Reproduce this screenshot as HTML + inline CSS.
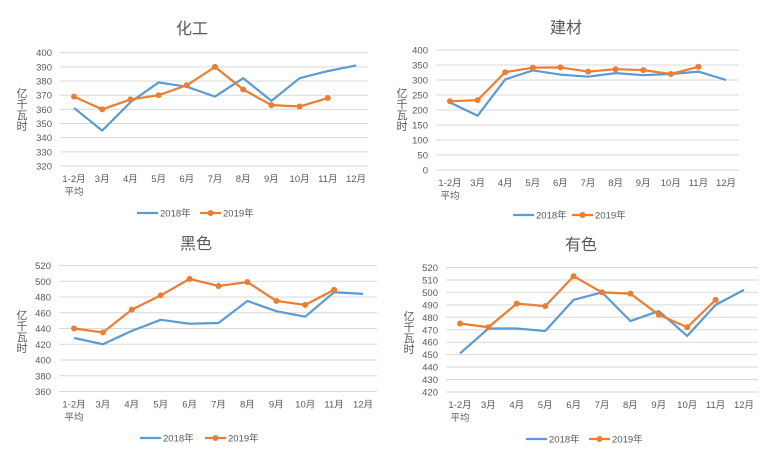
<!DOCTYPE html>
<html><head><meta charset="utf-8"><style>
html,body{margin:0;padding:0;background:#fff;}
svg text{font-family:"Liberation Sans","Noto Sans CJK SC",sans-serif;fill:#595959;}
</style></head><body>
<svg id="s" width="772" height="457" viewBox="0 0 772 457" xmlns="http://www.w3.org/2000/svg"></svg>
<script>
const charts=[
{t:"化工",tx:192,ty:34,top:52.7,bot:166,ymax:400,ymin:320,step:10,left:60,right:368,x0:74,x1:356,ylx:22,yly:111,leg:213,lb:137,lo:200,
a:[361,345,365,379,376,369,382,366,382,387,391],b:[369,360,367,370,377,390,374,363,362,368]},
{t:"建材",tx:566,ty:33,top:50,bot:170,ymax:400,ymin:0,step:50,left:436,right:739,x0:450,x1:726,ylx:402,yly:111,leg:215,lb:513,lo:572,
a:[225,181,302,332,318,311,323,316,320,328,300],b:[229,233,326,341,342,328,336,333,320,344]},
{t:"黑色",tx:196,ty:249,top:265.5,bot:391.5,ymax:520,ymin:360,step:20,left:59,right:377,x0:74,x1:363,ylx:22,yly:333,leg:438,lb:140,lo:205,
a:[428,420,437,451,446,447,475,462,455,486,484],b:[440,435,464,482,503,494,499,475,470,489]},
{t:"有色",tx:581,ty:250,top:267.5,bot:392,ymax:520,ymin:420,step:10,left:446,right:758,x0:460,x1:744,ylx:409,yly:334,leg:439,lb:526,lo:589,
a:[451,471,471,469,494,500,477,485,465,490,502],b:[475,472,491,489,513,500,499,482,472,494]}];
const cats=["1-2月","3月","4月","5月","6月","7月","8月","9月","10月","11月","12月"];
let h="";
for(const c of charts){
 const Y=v=>c.bot-(v-c.ymin)/(c.ymax-c.ymin)*(c.bot-c.top);
 const X=i=>c.x0+i*(c.x1-c.x0)/10;
 h+=`<text x="${c.tx}" y="${c.ty}" font-size="16" text-anchor="middle">${c.t}</text>`;
 for(let v=c.ymin;v<=c.ymax;v+=c.step){const y=Y(v);
  h+=`<line x1="${c.left}" x2="${c.right}" y1="${y}" y2="${y}" stroke="#d9d9d9" stroke-width="1"/>`;
  h+=`<text x="${c.left-8}" y="${y+3.5}" font-size="9.5" text-anchor="end">${v}</text>`;}
 cats.forEach((m,i)=>{h+=`<text x="${X(i)}" y="${c.bot+16}" font-size="9.5" text-anchor="middle">${m}</text>`;});
 h+=`<text x="${X(0)}" y="${c.bot+29}" font-size="9.5" text-anchor="middle">平均</text>`;
 ["亿","千","瓦","时"].forEach((ch,i)=>{h+=`<text x="${c.ylx}" y="${c.yly-14+i*11}" font-size="11" text-anchor="middle">${ch}</text>`;});
 h+=`<polyline fill="none" stroke="#5b9bd5" stroke-width="2.2" stroke-linejoin="round" points="${c.a.map((v,i)=>X(i)+','+Y(v)).join(' ')}"/>`;
 h+=`<polyline fill="none" stroke="#ed7d31" stroke-width="2.2" stroke-linejoin="round" points="${c.b.map((v,i)=>X(i)+','+Y(v)).join(' ')}"/>`;
 c.b.forEach((v,i)=>{h+=`<circle cx="${X(i)}" cy="${Y(v)}" r="3" fill="#ed7d31"/>`;});
 h+=`<line x1="${c.lb}" x2="${c.lb+21}" y1="${c.leg}" y2="${c.leg}" stroke="#5b9bd5" stroke-width="2.2"/>`;
 h+=`<text x="${c.lb+23}" y="${c.leg+3.5}" font-size="9.5">2018年</text>`;
 h+=`<line x1="${c.lo}" x2="${c.lo+21}" y1="${c.leg}" y2="${c.leg}" stroke="#ed7d31" stroke-width="2.2"/>`;
 h+=`<circle cx="${c.lo+10.5}" cy="${c.leg}" r="3" fill="#ed7d31"/>`;
 h+=`<text x="${c.lo+23}" y="${c.leg+3.5}" font-size="9.5">2019年</text>`;
}
document.getElementById("s").innerHTML=h;
</script>
</body></html>
